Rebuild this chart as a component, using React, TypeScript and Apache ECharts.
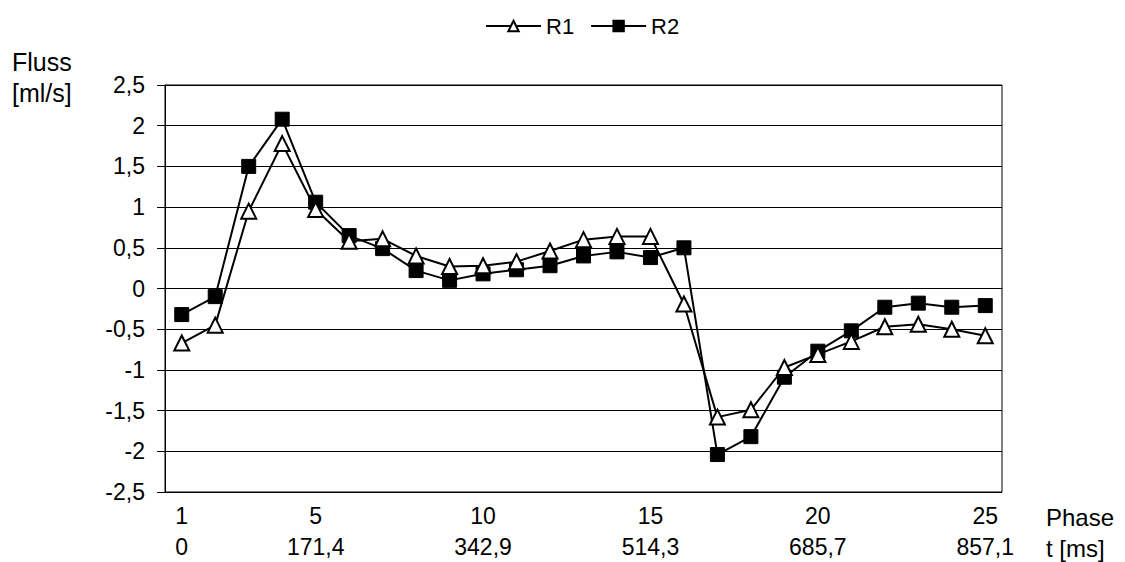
import React, { useEffect, useRef } from "react";
import * as echarts from "echarts";

const phases = ["1","2","3","4","5","6","7","8","9","10","11","12","13","14","15","16","17","18","19","20","21","22","23","24","25"];
const timeLabels: Record<string, string> = { "1": "0", "5": "171,4", "10": "342,9", "15": "514,3", "20": "685,7", "25": "857,1" };
const r1 = [-0.67, -0.45, 0.95, 1.78, 0.97, 0.58, 0.61, 0.4, 0.27, 0.28, 0.33, 0.46, 0.6, 0.64, 0.64, -0.19, -1.58, -1.49, -0.97, -0.81, -0.65, -0.47, -0.44, -0.5, -0.58];
const r2 = [-0.32, -0.1, 1.5, 2.08, 1.06, 0.65, 0.49, 0.22, 0.1, 0.18, 0.23, 0.28, 0.4, 0.45, 0.38, 0.5, -2.04, -1.82, -1.09, -0.77, -0.52, -0.23, -0.18, -0.23, -0.21];

const FONT = "Liberation Sans, Arial, sans-serif";

export default function App() {
  const ref = useRef<HTMLDivElement>(null);
  useEffect(() => {
    if (!ref.current) return;
    const chart = echarts.init(ref.current, null, { renderer: "svg" });
    chart.setOption({
      animation: false,
      backgroundColor: "#fff",
      textStyle: { fontFamily: FONT, color: "#000" },
      legend: {
        top: 10,
        left: 480,
        itemWidth: 55,
        itemHeight: 13,
        itemGap: 16,
        textStyle: { fontFamily: FONT, fontSize: 22, color: "#000" },
        data: ["R1", "R2"],
      },
      grid: { left: 165, right: 123, top: 85, bottom: 69, show: true, borderColor: "#000", borderWidth: 1 },
      xAxis: {
        type: "category",
        data: phases,
        boundaryGap: true,
        axisLine: { lineStyle: { color: "#000", width: 1 } },
        axisTick: { show: false },
        axisLabel: {
          interval: (i: number) => i === 0 || (i + 1) % 5 === 0,
          formatter: (v: string) => `${v}\n${timeLabels[v] ?? ""}`,
          fontFamily: FONT,
          fontSize: 23,
          color: "#000",
          lineHeight: 31,
          margin: 8,
        },
        splitLine: { show: false },
      },
      yAxis: {
        type: "value",
        min: -2.5,
        max: 2.5,
        interval: 0.5,
        axisLine: { show: true, lineStyle: { color: "#000", width: 1 } },
        axisTick: { show: true, length: 8, inside: false, lineStyle: { color: "#000" } },
        axisLabel: {
          fontFamily: FONT,
          fontSize: 23,
          color: "#000",
          margin: 20,
          formatter: (v: number) => String(v).replace(".", ","),
        },
        splitLine: { show: true, lineStyle: { color: "#000", width: 1 } },
      },
      graphic: [
        { type: "text", x: 12, y: 62, style: { text: "Fluss", font: `25px ${FONT}`, fill: "#000", verticalAlign: "middle" } },
        { type: "text", x: 12, y: 93, style: { text: "[ml/s]", font: `25px ${FONT}`, fill: "#000", verticalAlign: "middle" } },
        { type: "text", x: 1046, y: 517, style: { text: "Phase", font: `24px ${FONT}`, fill: "#000", verticalAlign: "middle" } },
        { type: "text", x: 1046, y: 548, style: { text: "t [ms]", font: `24px ${FONT}`, fill: "#000", verticalAlign: "middle" } },
      ],
      series: [
        {
          name: "R1",
          type: "line",
          data: r1,
          symbol: "triangle",
          symbolSize: 15,
          lineStyle: { color: "#000", width: 2 },
          itemStyle: { color: "#fff", borderColor: "#000", borderWidth: 2 },
          z: 3,
        },
        {
          name: "R2",
          type: "line",
          data: r2,
          symbol: "rect",
          symbolSize: 14,
          lineStyle: { color: "#000", width: 2 },
          itemStyle: { color: "#000", borderColor: "#000", borderWidth: 1 },
          z: 2,
        },
      ],
    });
    return () => chart.dispose();
  }, []);
  return <div ref={ref} style={{ width: 1125, height: 562, position: "fixed", top: 0, left: 0 }} />;
}
